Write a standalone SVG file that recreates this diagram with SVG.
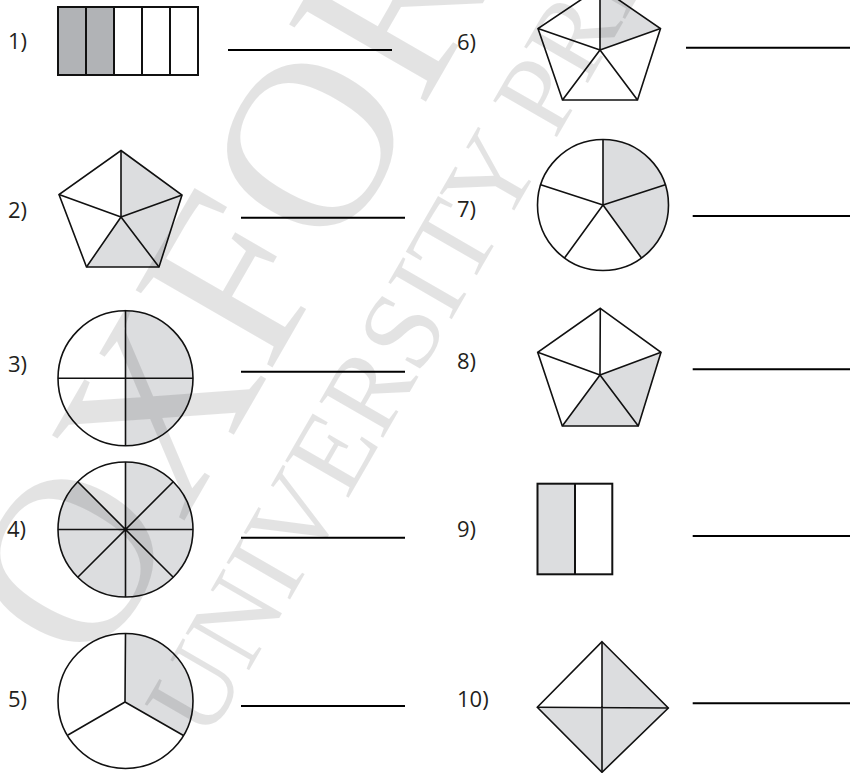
<svg xmlns="http://www.w3.org/2000/svg" width="850" height="773" viewBox="0 0 850 773">
<style>
.lbl{font-family:"Open Sans","Noto Sans","Liberation Sans",sans-serif;font-size:22px;fill:#231f20}
.ln{stroke:#000;stroke-width:2;fill:none}
.sh{fill:#dcdddf;stroke:none}
.dk{fill:#b1b3b6;stroke:none}
.ed{stroke:#111;stroke-width:1.6;fill:none;stroke-linejoin:miter}
.wm{font-family:"Liberation Serif","DejaVu Serif",serif;fill:#000;fill-opacity:0.11}
</style>
<rect width="850" height="773" fill="#fff"/>

<g id="item1">
<text class="lbl" x="8" y="49">1)</text>
<rect class="dk" x="58" y="7" width="56" height="68"/>
<rect class="ed" x="58" y="7" width="140" height="68" style="stroke-width:2"/>
<path class="ed" d="M86,7V75M114,7V75M142,7V75M170,7V75" style="stroke-width:2"/>
<line class="ln" x1="228" y1="50" x2="392" y2="50"/>
</g>

<g id="item2">
<text class="lbl" x="8" y="218">2)</text>
<polygon class="sh" points="121,217 121,150.5 182,195 159,267 86.5,267"/>
<polygon class="ed" points="121,150.5 182,195 159,267 86.5,267 59,194.5"/>
<path class="ed" d="M121,217L121,150.5M121,217L182,195M121,217L159,267M121,217L86.5,267M121,217L59,194.5"/>
<line class="ln" x1="241" y1="217.7" x2="405" y2="217.7"/>
</g>

<g id="item3">
<text class="lbl" x="8" y="371.7">3)</text>
<path class="sh" d="M125.5,310.8A67.5,67.5 0 0 1 125.5,445.8Z"/>
<path class="ed" d="M125.5,310.8V445.8M58,378.3H193"/>
<circle class="ed" cx="125.5" cy="378.3" r="67.5"/>
<line class="ln" x1="241" y1="371.7" x2="405" y2="371.7"/>
</g>

<g id="item4">
<text class="lbl" x="7" y="537.3">4)</text>
<path class="sh" d="M125.5,529.5L125.5,462A67.5,67.5 0 1 1 77.77,481.77Z"/>
<path class="ed" d="M125.5,462V597M58,529.5H193M77.77,481.77L173.23,577.23M173.23,481.77L77.77,577.23"/>
<circle class="ed" cx="125.5" cy="529.5" r="67.5"/>
<line class="ln" x1="241" y1="537.7" x2="405" y2="537.7"/>
</g>

<g id="item5">
<text class="lbl" x="8" y="707.3">5)</text>
<path class="sh" d="M125,702L125.5,633.5A67.5,67.5 0 0 1 183.5,735.5Z"/>
<path class="ed" d="M125,702L125.5,633.5M125,702L183.5,735.5M125,702L68,735"/>
<circle class="ed" cx="125.5" cy="701" r="67.5"/>
<line class="ln" x1="241" y1="706" x2="405" y2="706"/>
</g>

<g id="item6">
<text class="lbl" x="457" y="50">6)</text>
<polygon class="sh" points="600,50 600,-13 660.5,28.5"/>
<polygon class="ed" points="600,-13 660.5,28.5 637.5,100 562.5,100 538,28.5"/>
<path class="ed" d="M600,50L600,-13M600,50L660.5,28.5M600,50L637.5,100M600,50L562.5,100M600,50L538,28.5"/>
<line class="ln" x1="686" y1="47.7" x2="850" y2="47.7"/>
</g>

<g id="item7">
<text class="lbl" x="457" y="217.3">7)</text>
<path class="sh" d="M603,205L603,139.5A65.5,65.5 0 0 1 641.5,258Z"/>
<path class="ed" d="M603,205L603,139.5M603,205L665.3,184.8M603,205L641.5,258M603,205L564.5,258M603,205L540.7,184.8"/>
<circle class="ed" cx="603" cy="205" r="65.5"/>
<line class="ln" x1="692.7" y1="216" x2="850" y2="216"/>
</g>

<g id="item8">
<text class="lbl" x="457" y="369.3">8)</text>
<polygon class="sh" points="600,375 661,352.3 638.3,426 562.3,426"/>
<polygon class="ed" points="600.3,308.3 661,352.3 638.3,426 562.3,426 537.7,352.3"/>
<path class="ed" d="M600,375L600.3,308.3M600,375L661,352.3M600,375L638.3,426M600,375L562.3,426M600,375L537.7,352.3"/>
<line class="ln" x1="692.7" y1="369.3" x2="850" y2="369.3"/>
</g>

<g id="item9">
<text class="lbl" x="457" y="537.3">9)</text>
<rect class="sh" x="537.5" y="483.7" width="37.5" height="90.6"/>
<rect class="ed" x="537.5" y="483.7" width="74.8" height="90.6" style="stroke-width:2"/>
<line class="ed" x1="575" y1="483.7" x2="575" y2="574.3" style="stroke-width:2"/>
<line class="ln" x1="692.7" y1="536" x2="850" y2="536"/>
</g>

<g id="item10">
<text class="lbl" x="457" y="706.7">10)</text>
<polygon class="sh" points="602,641.7 668.3,708 602,772.3 537.3,707.3 602,707.5"/>
<polygon class="ed" points="602,641.7 668.3,708 602,772.3 537.3,707.3"/>
<path class="ed" d="M602,641.7V772.3M537.3,707.3L668.3,708"/>
<line class="ln" x1="692.7" y1="703.3" x2="850" y2="703.3"/>
</g>

<g id="watermark">
<text class="wm" font-size="240" transform="translate(95,675) rotate(-60)">OXFORD</text>
<text class="wm" font-size="112" transform="translate(207,743) rotate(-60)">UNIVERSITY PRESS</text>
</g>
</svg>
